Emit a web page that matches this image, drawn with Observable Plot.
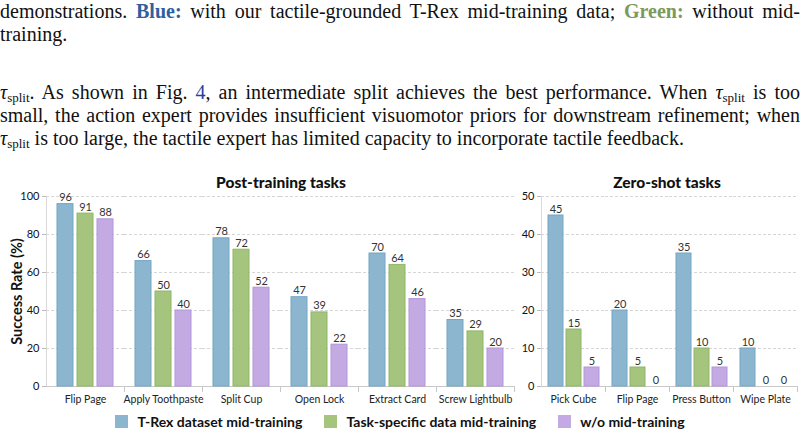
<!DOCTYPE html>
<html>
<head>
<meta charset="utf-8">
<script src="https://cdn.jsdelivr.net/npm/d3@7"></script>
<script src="https://cdn.jsdelivr.net/npm/@observablehq/plot@0.6"></script>
<style>
  body { margin: 0; background: #fff; width: 805px; height: 436px; overflow: hidden; position: relative; }
  .para { position: absolute; left: 0; width: 800px; font-family: "Liberation Serif", "Times New Roman", serif;
          font-size: 20px; line-height: 23px; color: #111; }
  .full { text-align: justify; text-align-last: justify; white-space: nowrap; }
  .para b.blue { color: #2f5f9e; }
  .para b.green { color: #7c9a5c; }
  .para .ref { color: #2a3fa0; }
  .para sub { font-size: 13px; vertical-align: -3px; line-height: 0; font-style: normal; }
  .ctitle { position: absolute; top: 173px; font-family: Lato, sans-serif; font-weight: 900; font-size: 15.5px;
            color: #111; transform: translateX(-50%); white-space: nowrap; }
  #left { position: absolute; left: 0; top: 170px; }
  #right { position: absolute; left: 520px; top: 170px; }
  #legend { position: absolute; left: 0; width: 800px; top: 413px; display: flex; justify-content: center; gap: 22px;
            font-family: Lato, sans-serif; font-weight: 700; font-size: 14px; color: #111; }
  #legend .item { display: flex; align-items: center; gap: 9px; }
  #legend .sw { width: 13px; height: 13px; }
</style>
</head>
<body>
<div class="para" style="top:0px">
  <div class="full">demonstrations. <b class="blue">Blue:</b> with our tactile-grounded T-Rex mid-training data; <b class="green">Green:</b> without mid-</div>
  <div>training.</div>
</div>
<div class="para" style="top:81px">
  <div class="full"><i>τ</i><sub>split</sub>. As shown in Fig. <span class="ref">4</span>, an intermediate split achieves the best performance. When <i>τ</i><sub>split</sub> is too</div>
  <div class="full">small, the action expert provides insufficient visuomotor priors for downstream refinement; when</div>
  <div><i>τ</i><sub>split</sub> is too large, the tactile expert has limited capacity to incorporate tactile feedback.</div>
</div>

<div class="ctitle" style="left:281px">Post-training tasks</div>
<div class="ctitle" style="left:667px">Zero-shot tasks</div>
<div id="left"></div>
<div id="right"></div>
<div id="legend"></div>

<script>
// Success rates (%) per task, one array per training setting
const series = ["T-Rex dataset mid-training", "Task-specific data mid-training", "w/o mid-training"];
const fills = ["#8cb6cf", "#a5c47d", "#c4aae2"];
const strokes = ["#74a6c6", "#8fb866", "#b396dc"];

const postTasks = ["Flip Page", "Apply Toothpaste", "Split Cup", "Open Lock", "Extract Card", "Screw Lightbulb"];
const postTrex = [96, 66, 78, 47, 70, 35];
const postTaskSpecific = [91, 50, 72, 39, 64, 29];
const postNone = [88, 40, 52, 22, 46, 20];
const postTicks = [0, 20, 40, 60, 80, 100];

const zeroTasks = ["Pick Cube", "Flip Page", "Press Button", "Wipe Plate"];
const zeroTrex = [45, 20, 35, 10];
const zeroTaskSpecific = [15, 5, 10, 0];
const zeroNone = [5, 0, 5, 0];
const zeroTicks = [0, 10, 20, 30, 40, 50];

function groupedBars({tasks, values, ticks, width, marginLeft, marginRight, padIn, padOut, yLabel}) {
  const rows = tasks.flatMap((task, i) =>
    series.map((s, j) => ({task, series: s, k: j, value: values[j][i]})));
  const height = 240, marginTop = 26, marginBottom = 24;
  const frameH = height - marginTop - marginBottom;
  const marks = [
    Plot.gridY(ticks, {stroke: "#d6d6d6", strokeOpacity: 1, strokeDasharray: "3,2"}),
    Plot.frame({anchor: "left", facetAnchor: "left", stroke: "#d9d9d9"}),
    Plot.ruleY([0], {stroke: "#c8c8c8"}),
    Plot.frame({anchor: "right", insetTop: frameH, insetBottom: -5, stroke: "#c8c8c8"}),
    Plot.barY(rows, {fx: "task", x: "series", y: "value",
      fill: d => fills[d.k], stroke: d => strokes[d.k], strokeWidth: 1}),
    Plot.text(rows, {fx: "task", x: "series", y: "value", text: "value",
      lineAnchor: "bottom", dy: -3, fill: "#333", fontSize: 11}),
    Plot.axisY(ticks, {tickSize: 4, tickPadding: 3, stroke: "#bbb", fill: "#111", fontSize: 11, label: null}),
    Plot.axisFx({anchor: "bottom", tickSize: 0, tickPadding: 9, label: null, fontSize: 10.5, fill: "#222"})
  ];
  if (yLabel) {
    marks.push(Plot.text([yLabel], {frameAnchor: "left", textAnchor: "middle", rotate: -90, dx: -29,
      facetAnchor: "left", fontWeight: "bold", fontSize: 14.5, fill: "#111"}));
  }
  return Plot.plot({
    width, height, marginTop, marginBottom, marginLeft, marginRight,
    style: {fontFamily: "Lato, sans-serif", fontSize: "10.5px", overflow: "visible", background: "transparent"},
    fx: {domain: tasks, padding: 0, label: null, axis: null},
    x: {domain: series, axis: null, paddingInner: padIn, paddingOuter: padOut},
    y: {domain: [0, ticks[ticks.length - 1]], axis: null},
    marks
  });
}

document.getElementById("left").append(groupedBars({
  tasks: postTasks, values: [postTrex, postTaskSpecific, postNone], ticks: postTicks,
  width: 525, marginLeft: 44, marginRight: 9, padIn: 0.19, padOut: 0.48, yLabel: "Success Rate (%)"
}));
document.getElementById("right").append(groupedBars({
  tasks: zeroTasks, values: [zeroTrex, zeroTaskSpecific, zeroNone], ticks: zeroTicks,
  width: 285, marginLeft: 21, marginRight: 8, padIn: 0.17, padOut: 0.36
}));

// Legend
const legend = document.getElementById("legend");
series.forEach((s, i) => {
  const item = document.createElement("div");
  item.className = "item";
  const sw = document.createElement("span");
  sw.className = "sw";
  sw.style.background = fills[i];
  const label = document.createElement("span");
  label.textContent = s;
  item.append(sw, label);
  legend.append(item);
});
</script>
</body>
</html>
